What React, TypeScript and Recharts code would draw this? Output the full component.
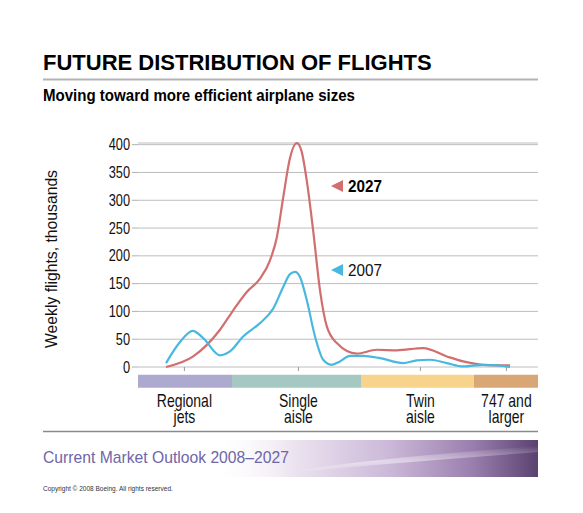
import React from "react";
import {
  CartesianGrid,
  Line,
  LineChart,
  ReferenceArea,
  XAxis,
  YAxis,
} from "recharts";

// x runs 0..100 across the airplane-size scale
const x2027 = [7, 13.8, 20.5, 23.8, 27.2, 30.5, 33, 34.7, 36.3, 38, 39.7, 40.9, 42.2, 43.8, 45.5, 47.2, 49.7, 54.7, 59.7, 64.7, 71.3, 77.2, 81.3, 86.3, 93];
const flights2027 = [0, 19, 67, 102, 135, 159, 192, 233, 305, 376, 403, 388, 335, 245, 138, 73, 43, 24, 31, 30, 34, 19, 10, 4, 3];

const x2007 = [7, 10.5, 13.7, 16.3, 20.5, 23, 26.3, 30.5, 33.8, 36.3, 38, 39.25, 40.5, 42.2, 44.25, 46.3, 48.4, 50.5, 53, 56.3, 60.5, 66.3, 69.7, 73, 77.2, 81.3, 86.3, 89.7, 93];
const flights2007 = [7, 45, 65, 52, 21, 28, 55, 79, 105, 144, 167, 171, 162, 120, 55, 13, 4, 10, 20, 20, 16, 7, 12, 13, 7, 1, 4, 3, 0];

const categories = [
  ["Regional", "jets"],
  ["Single", "aisle"],
  ["Twin", "aisle"],
  ["747 and", "larger"],
];
const categoryTicks = [11.6, 40.1, 70.6, 92.1];
const bandEdges = [0, 23.5, 55.75, 84, 100];
const bandColors = ["#aeaacf", "#a6c8c3", "#f8d38b", "#d9a676"];
const yTicks = [0, 50, 100, 150, 200, 250, 300, 350, 400];

const RED = "#d26e6e";
const BLUE = "#49b8e0";
const SANS = "'Liberation Sans', Arial, sans-serif";
const SQUEEZE = 0.8;

const data2027 = x2027.map((x, i) => ({ x, v: flights2027[i] }));
const data2007 = x2007.map((x, i) => ({ x, v: flights2007[i] }));

function CategoryTick({ x, y, payload, index }: any) {
  const idx = index ?? categoryTicks.indexOf(payload.value);
  const lines = categories[idx] || ["", ""];
  return (
    <g transform={`translate(${x},${y}) scale(${SQUEEZE},1)`}>
      <text x={0} y={0} textAnchor="middle" fontFamily={SANS} fontSize={17.5} fill="#111">
        <tspan x={0} dy={34}>{lines[0]}</tspan>
        <tspan x={0} dy={16.5}>{lines[1]}</tspan>
      </text>
    </g>
  );
}

function ValueTick({ x, y, payload }: any) {
  return (
    <g transform={`translate(${x},${y}) scale(${SQUEEZE},1)`}>
      <text x={0} y={0} dy={5.5} textAnchor="end" fontFamily={SANS} fontSize={16} fill="#111">
        {payload.value}
      </text>
    </g>
  );
}

export default function App() {
  return (
    <div style={{ position: "absolute", left: 0, top: 0, width: 583, height: 513, background: "#fff" }}>
      <svg width={583} height={513} style={{ position: "absolute", left: 0, top: 0 }}>
        <defs>
          <linearGradient id="footerGrad" x1="0" y1="0" x2="1" y2="0">
            <stop offset="0%" stopColor="#ffffff" stopOpacity={0} />
            <stop offset="25%" stopColor="#ece4f0" />
            <stop offset="55%" stopColor="#cbb8d8" />
            <stop offset="80%" stopColor="#9a7fae" />
            <stop offset="100%" stopColor="#5a4270" />
          </linearGradient>
          <linearGradient id="swoosh" x1="0" y1="0" x2="0" y2="1">
            <stop offset="0%" stopColor="#ffffff" stopOpacity={0} />
            <stop offset="60%" stopColor="#ffffff" stopOpacity={0.45} />
            <stop offset="100%" stopColor="#ffffff" stopOpacity={0} />
          </linearGradient>
        </defs>
        <text x={43} y={70} fontFamily={SANS} fontWeight="bold" fontSize={22} fill="#000">
          FUTURE DISTRIBUTION OF FLIGHTS
        </text>
        <line x1={43} x2={538} y1={79.5} y2={79.5} stroke="#b3b3b3" strokeWidth={2} />
        <text
          x={43}
          y={101}
          fontFamily={SANS}
          fontWeight="bold"
          fontSize={17}
          fill="#000"
          textLength={312}
          lengthAdjust="spacingAndGlyphs"
        >
          Moving toward more efficient airplane sizes
        </text>
        <text
          x={0}
          y={0}
          transform="translate(57 259) rotate(-90)"
          textAnchor="middle"
          fontFamily={SANS}
          fontSize={17}
          fill="#111"
          textLength={178}
          lengthAdjust="spacingAndGlyphs"
        >
          Weekly flights, thousands
        </text>
        <polygon points="331,186 343,180 343,192" fill={RED} />
        <text x={348} y={192} fontFamily={SANS} fontWeight="bold" fontSize={17} fill="#000" textLength={34} lengthAdjust="spacingAndGlyphs">
          2027
        </text>
        <polygon points="331,270 343,264 343,276" fill={BLUE} />
        <text x={348} y={276} fontFamily={SANS} fontSize={17} fill="#111" textLength={34} lengthAdjust="spacingAndGlyphs">
          2007
        </text>

        <line x1={43} x2={538} y1={431.5} y2={431.5} stroke="#8a8a8a" strokeWidth={1.5} />
        <rect x={210} y={440} width={328} height={37} fill="url(#footerGrad)" />
        <path d="M300,470 C380,458 460,452 538,446 L538,452 C460,458 380,464 300,472 Z" fill="url(#swoosh)" />
        <text x={43} y={463} fontFamily={SANS} fontSize={15.7} fill="#6e66a8">
          Current Market Outlook 2008–2027
        </text>
        <text x={43} y={491} fontFamily={SANS} fontSize={6.5} fill="#333">
          Copyright © 2008 Boeing. All rights reserved.
        </text>
      </svg>

      <div style={{ position: "absolute", left: 0, top: 0 }}>
        <LineChart width={583} height={513} margin={{ top: 143, right: 45, bottom: 76, left: 78 }}>
          <CartesianGrid horizontal vertical={false} stroke="#bdbdbd" />
          <XAxis
            type="number"
            dataKey="x"
            domain={[0, 100]}
            ticks={categoryTicks}
            interval={0}
            height={70}
            axisLine={false}
            tickSize={4}
            tickLine={{ stroke: "#9a9a9a" }}
            tick={<CategoryTick />}
          />
          <YAxis
            type="number"
            domain={[0, 400]}
            ticks={yTicks}
            interval={0}
            width={60}
            axisLine={false}
            tickSize={6}
            tickMargin={2}
            tickLine={{ stroke: "#b0b0b0" }}
            tick={<ValueTick />}
          />
          {bandColors.map((c, i) => (
            <ReferenceArea
              key={c}
              x1={bandEdges[i]}
              x2={bandEdges[i + 1]}
              y1={-13.8}
              y2={-37.5}
              ifOverflow="visible"
              fill={c}
              fillOpacity={1}
              stroke="none"
            />
          ))}
          <Line
            data={data2027}
            dataKey="v"
            type="monotone"
            stroke={RED}
            strokeWidth={2.2}
            dot={false}
            isAnimationActive={false}
          />
          <Line
            data={data2007}
            dataKey="v"
            type="monotone"
            stroke={BLUE}
            strokeWidth={2.2}
            dot={false}
            isAnimationActive={false}
          />
        </LineChart>
      </div>
    </div>
  );
}
